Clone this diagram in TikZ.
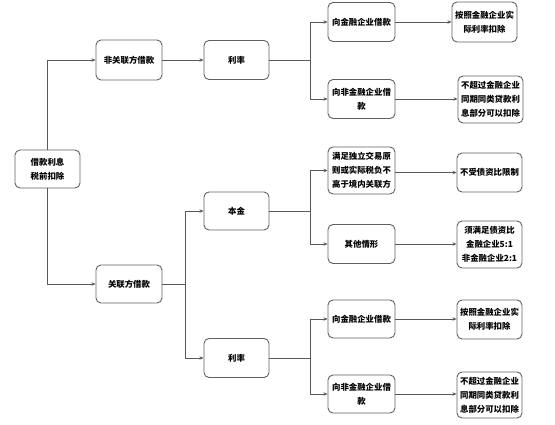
\documentclass[tikz,border=0pt]{standalone}
\usepackage{fontspec}
\setmainfont{Noto Sans CJK SC}
\usetikzlibrary{arrows.meta}
\begin{document}
\begin{tikzpicture}[x=1pt,y=-1pt,
  box/.style={draw=black!62, line width=0.9pt, rounded corners=5pt, fill=white,
    inner sep=0pt, align=center, font=\fontsize{8.4}{14}\selectfont\bfseries},
  conn/.style={draw=black!65, line width=0.8pt},
  arr/.style={conn, -{Stealth[length=4pt,width=3.5pt]}}]
\useasboundingbox (0,0) rectangle (555,425);
% column 0/1
\node[box, minimum width=65pt, minimum height=38pt] (root) at (47.5,169) {借款利息\\税前扣除};
\node[box, minimum width=66pt, minimum height=40pt] (nrl) at (129,60) {非关联方借款};
\node[box, minimum width=66pt, minimum height=38pt] (rl) at (129,284) {关联方借款};
% column 2
\node[box, minimum width=65pt, minimum height=39pt] (r1) at (236.5,60) {利率};
\node[box, minimum width=65pt, minimum height=38pt] (bj) at (236.5,211) {本金};
\node[box, minimum width=65pt, minimum height=39pt] (r2) at (236.5,358) {利率};
% column 3
\node[box, minimum width=67pt, minimum height=39pt] (f1) at (361.5,22) {向金融企业借款};
\node[box, minimum width=67pt, minimum height=39pt] (nf1) at (361.5,99) {向非金融企业借\\款};
\node[box, minimum width=67pt, minimum height=47pt] (ind) at (361.5,170.5) {满足独立交易原\\则或实际税负不\\高于境内关联方};
\node[box, minimum width=67pt, minimum height=39pt] (oth) at (361.5,244) {其他情形};
\node[box, minimum width=67pt, minimum height=38pt] (f2) at (361.5,319) {向金融企业借款};
\node[box, minimum width=67pt, minimum height=38pt] (nf2) at (361.5,394) {向非金融企业借\\款};
% column 4
\node[box, minimum width=65pt, minimum height=40pt] (a1) at (484.5,22) {按照金融企业实\\际利率扣除};
\node[box, minimum width=65pt, minimum height=47pt] (b1) at (490.5,99.5) {不超过金融企业\\同期同类贷款利\\息部分可以扣除};
\node[box, minimum width=65pt, minimum height=39pt] (c1) at (489.5,172.5) {不受债资比限制};
\node[box, minimum width=65pt, minimum height=47pt] (d1) at (489.5,244.5) {须满足债资比\\金融企业5:1\\非金融企业2:1};
\node[box, minimum width=65pt, minimum height=39pt] (a2) at (489.5,319.5) {按照金融企业实\\际利率扣除};
\node[box, minimum width=65pt, minimum height=46pt] (b2) at (489.5,395) {不超过金融企业\\同期同类贷款利\\息部分可以扣除};
% branch points
\coordinate (k1) at (310,60);
\coordinate (k2) at (185,284);
\coordinate (k3) at (310,211);
\coordinate (k4) at (310,358);
% connectors
\draw[arr] (root.north) |- (nrl.west);
\draw[arr] (root.south) |- (rl.west);
\draw[arr] (nrl.east) -- (r1.west);
\draw[conn] (r1.east) -- (k1);
\draw[arr] (k1) |- (f1.west);
\draw[arr] (k1) |- (nf1.west);
\draw[conn] (rl.east) -- (k2);
\draw[arr] (k2) |- (bj.west);
\draw[arr] (k2) |- (r2.west);
\draw[conn] (bj.east) -- (k3);
\draw[arr] (k3) |- (ind.west);
\draw[arr] (k3) |- (oth.west);
\draw[conn] (r2.east) -- (k4);
\draw[arr] (k4) |- (f2.west);
\draw[arr] (k4) |- (nf2.west);
\draw[arr] (f1.east) -- (f1.east -| a1.west);
\draw[arr] (nf1.east) -- (nf1.east -| b1.west);
\draw[arr] (ind.east |- c1.west) -- (c1.west);
\draw[arr] (oth.east) -- (oth.east -| d1.west);
\draw[arr] (f2.east) -- (f2.east -| a2.west);
\draw[arr] (nf2.east) -- (nf2.east -| b2.west);
\end{tikzpicture}
\end{document}
